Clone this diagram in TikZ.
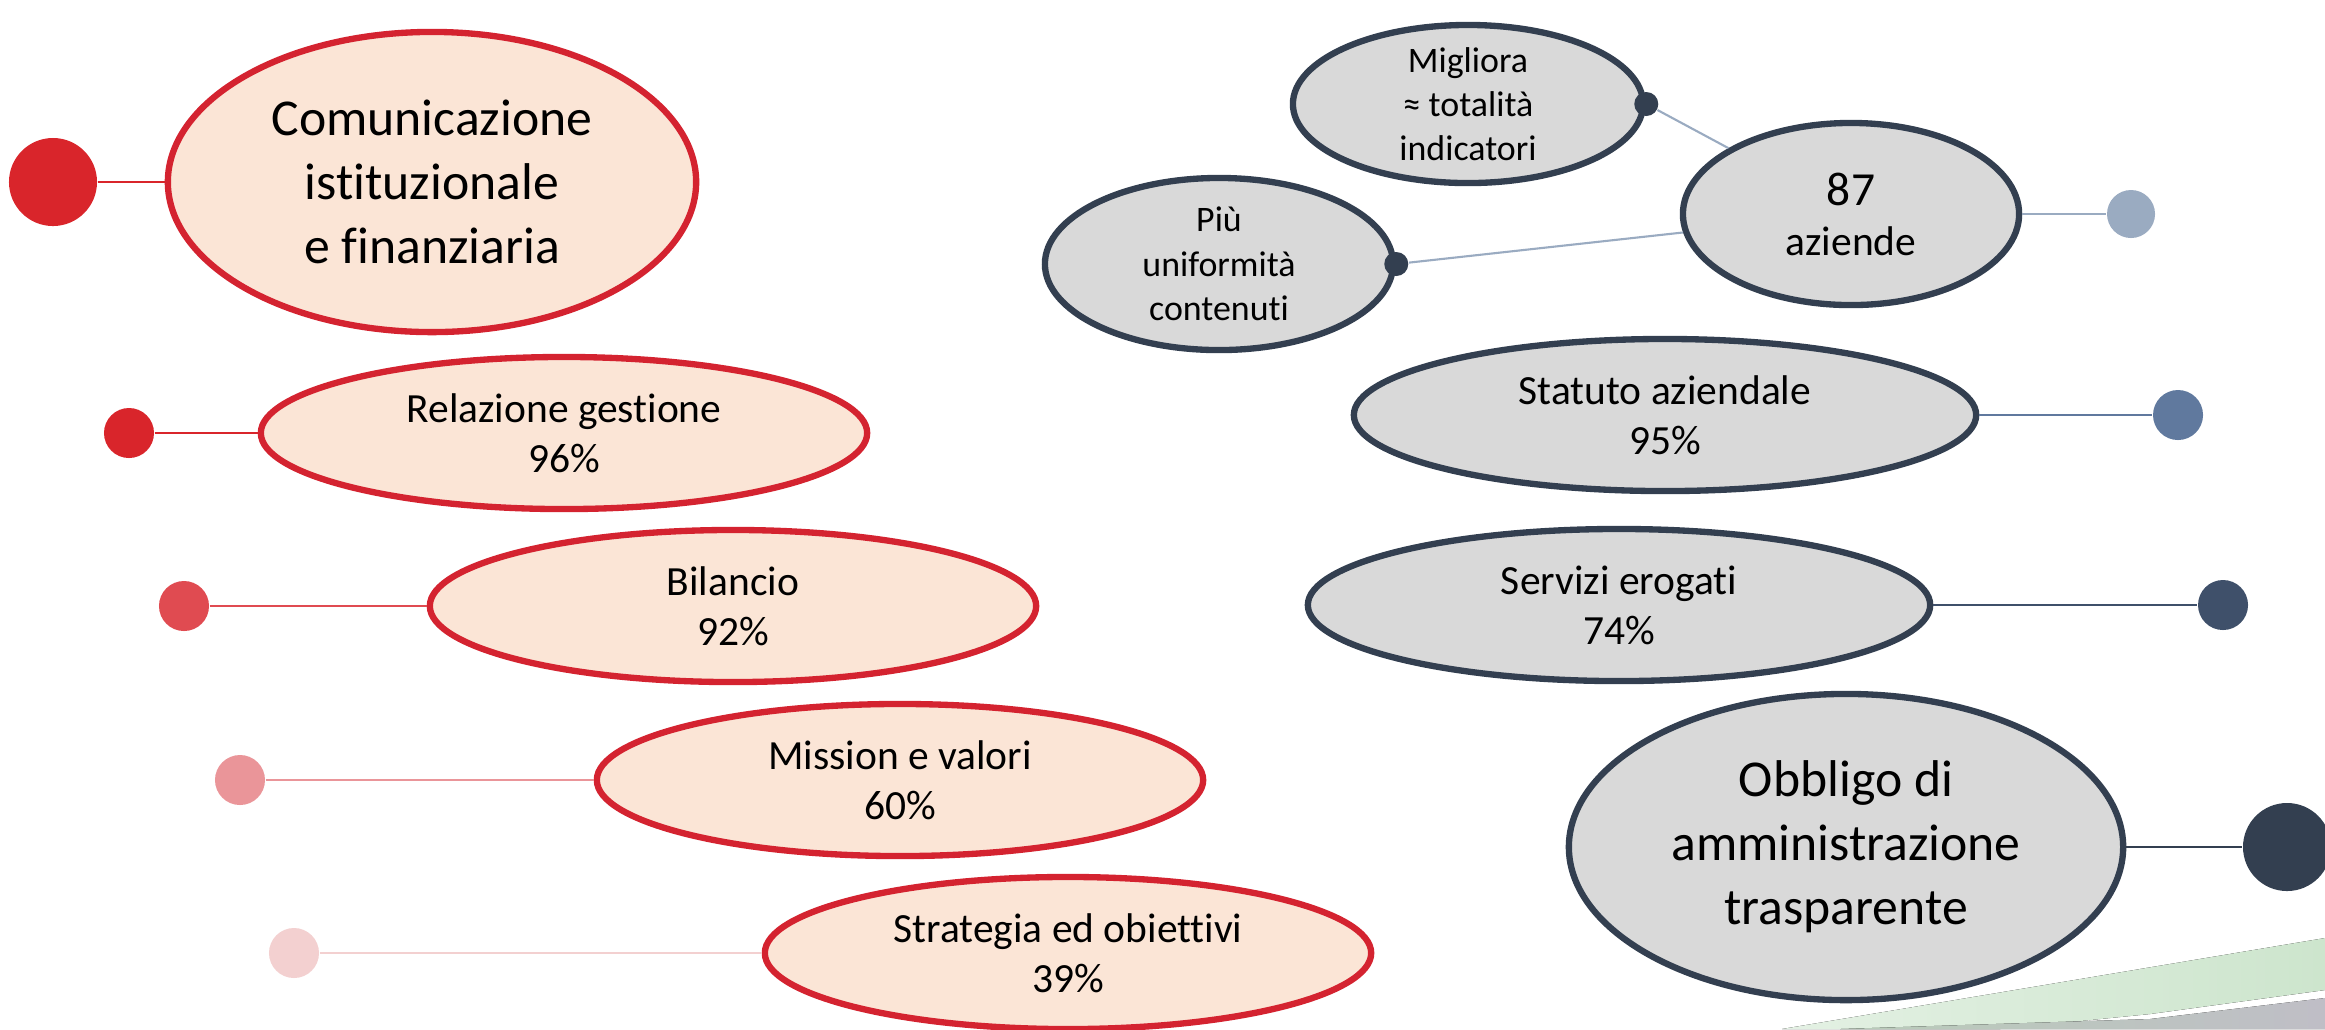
\documentclass[tikz,border=0pt]{standalone}
\usepackage{fontspec}
\setmainfont{Carlito}[Ligatures=NoCommon]
\usetikzlibrary{shapes.geometric}

\definecolor{rosso}{HTML}{D42330}
\definecolor{pesca}{HTML}{FBE5D6}
\definecolor{grigio}{HTML}{D9D9D9}
\definecolor{bluscuro}{HTML}{333F50}
\definecolor{rossoA}{HTML}{D9252B}
\definecolor{rossoB}{HTML}{E04B51}
\definecolor{rossoC}{HTML}{EA9599}
\definecolor{rossoD}{HTML}{F3D0D0}
\definecolor{bluA}{HTML}{9AABC1}
\definecolor{bluB}{HTML}{60799E}
\definecolor{bluC}{HTML}{3F506A}
\definecolor{verde}{HTML}{CDE5CD}
\definecolor{grigioverde}{HTML}{B9CCB9}
\definecolor{grigioscuro}{HTML}{BFBEC6}

\tikzset{
  ellrossa/.style={ellipse, draw=rosso, line width=1.8pt, fill=pesca, inner sep=0pt,
    align=center, font=\fontsize{11.8}{14.2}\selectfont},
  ellgrigia/.style={ellipse, draw=bluscuro, line width=1.8pt, fill=grigio, inner sep=0pt,
    align=center, font=\fontsize{11.8}{14.2}\selectfont},
  titolo/.style={font=\fontsize{14.7}{18.2}\selectfont},
  piccolo/.style={font=\fontsize{10.2}{12.6}\selectfont, inner ysep=-6pt},
  pallino/.style={circle, fill=#1, inner sep=0pt, minimum size=0.5cm},
  filo/.style={draw=#1, line width=0.6pt},
}

\begin{document}
\begin{tikzpicture}[x=0.01cm, y=-0.01cm]
  \useasboundingbox (0,0) rectangle (2325,1029);

  % Striscia decorativa in basso a destra
  \fill[left color=verde!55!white, right color=verde] (1782,1029) -- (2325,938) -- (2325,990) -- (2150,1014) -- (2000,1029) -- cycle;
  \fill[left color=grigioverde, right color=grigioscuro] (1840,1029) -- (2150,1019) -- (2325,998) -- (2325,1029) -- cycle;

  % Comunicazione istituzionale e finanziaria
  \node[ellrossa, titolo, minimum width=5.28cm, minimum height=3.0cm] (com) at (432,182) {Comunicazione\\istituzionale\\e finanziaria};
  \node[pallino=rossoA, minimum size=0.88cm] (pcom) at (53,182) {};
  \draw[filo=rossoA] (pcom) -- (com);

  % Voci a sinistra
  \node[ellrossa, minimum width=6.06cm, minimum height=1.52cm] (rel) at (564,433) {Relazione gestione\\96\%};
  \node[ellrossa, minimum width=6.06cm, minimum height=1.52cm] (bil) at (733,606) {Bilancio\\92\%};
  \node[ellrossa, minimum width=6.06cm, minimum height=1.52cm] (mis) at (900,780) {Mission e valori\\60\%};
  \node[ellrossa, minimum width=6.06cm, minimum height=1.52cm] (str) at (1068,953) {Strategia ed obiettivi\\39\%};

  \node[pallino=rossoA] (prel) at (129,433) {};
  \node[pallino=rossoB] (pbil) at (184,606) {};
  \node[pallino=rossoC] (pmis) at (240,780) {};
  \node[pallino=rossoD] (pstr) at (294,953) {};
  \draw[filo=rossoA] (prel) -- (rel);
  \draw[filo=rossoB] (pbil) -- (bil);
  \draw[filo=rossoC] (pmis) -- (mis);
  \draw[filo=rossoD] (pstr) -- (str);

  % 87 aziende e dettagli
  \node[ellgrigia, piccolo, minimum width=3.5cm, minimum height=1.58cm] (mig) at (1468,104) {Migliora\\≈ totalità\\indicatori};
  \node[ellgrigia, piccolo, minimum width=3.48cm, minimum height=1.72cm] (piu) at (1219,264) {Più\\uniformità\\contenuti};
  \node[ellgrigia, minimum width=3.36cm, minimum height=1.82cm] (az) at (1851,214) {{\fontsize{13.5}{14.2}\selectfont 87}\\aziende};
  \node[pallino=bluscuro, minimum size=0.24cm] (pmig) at (mig.east) {};
  \node[pallino=bluscuro, minimum size=0.24cm] (ppiu) at (piu.east) {};
  \node[pallino=bluA, minimum size=0.48cm] (paz) at (2131,214) {};
  \draw[filo=bluA] (pmig) -- (az);
  \draw[filo=bluA] (ppiu) -- (az);
  \draw[filo=bluA] (az) -- (paz);

  % Voci a destra
  \node[ellgrigia, minimum width=6.22cm, minimum height=1.52cm] (sta) at (1665,415) {Statuto aziendale\\95\%};
  \node[ellgrigia, minimum width=6.22cm, minimum height=1.52cm] (ser) at (1619,605) {Servizi erogati\\74\%};
  \node[pallino=bluB] (psta) at (2178,415) {};
  \node[pallino=bluC] (pser) at (2223,605) {};
  \draw[filo=bluB] (sta) -- (psta);
  \draw[filo=bluC] (ser) -- (pser);

  % Obbligo di amministrazione trasparente
  \node[ellgrigia, titolo, minimum width=5.54cm, minimum height=3.06cm] (obb) at (1846,847) {Obbligo di\\amministrazione\\trasparente};
  \node[pallino=bluscuro, minimum size=0.88cm] (pobb) at (2287,847) {};
  \draw[filo=bluscuro] (obb) -- (pobb);
\end{tikzpicture}
\end{document}
